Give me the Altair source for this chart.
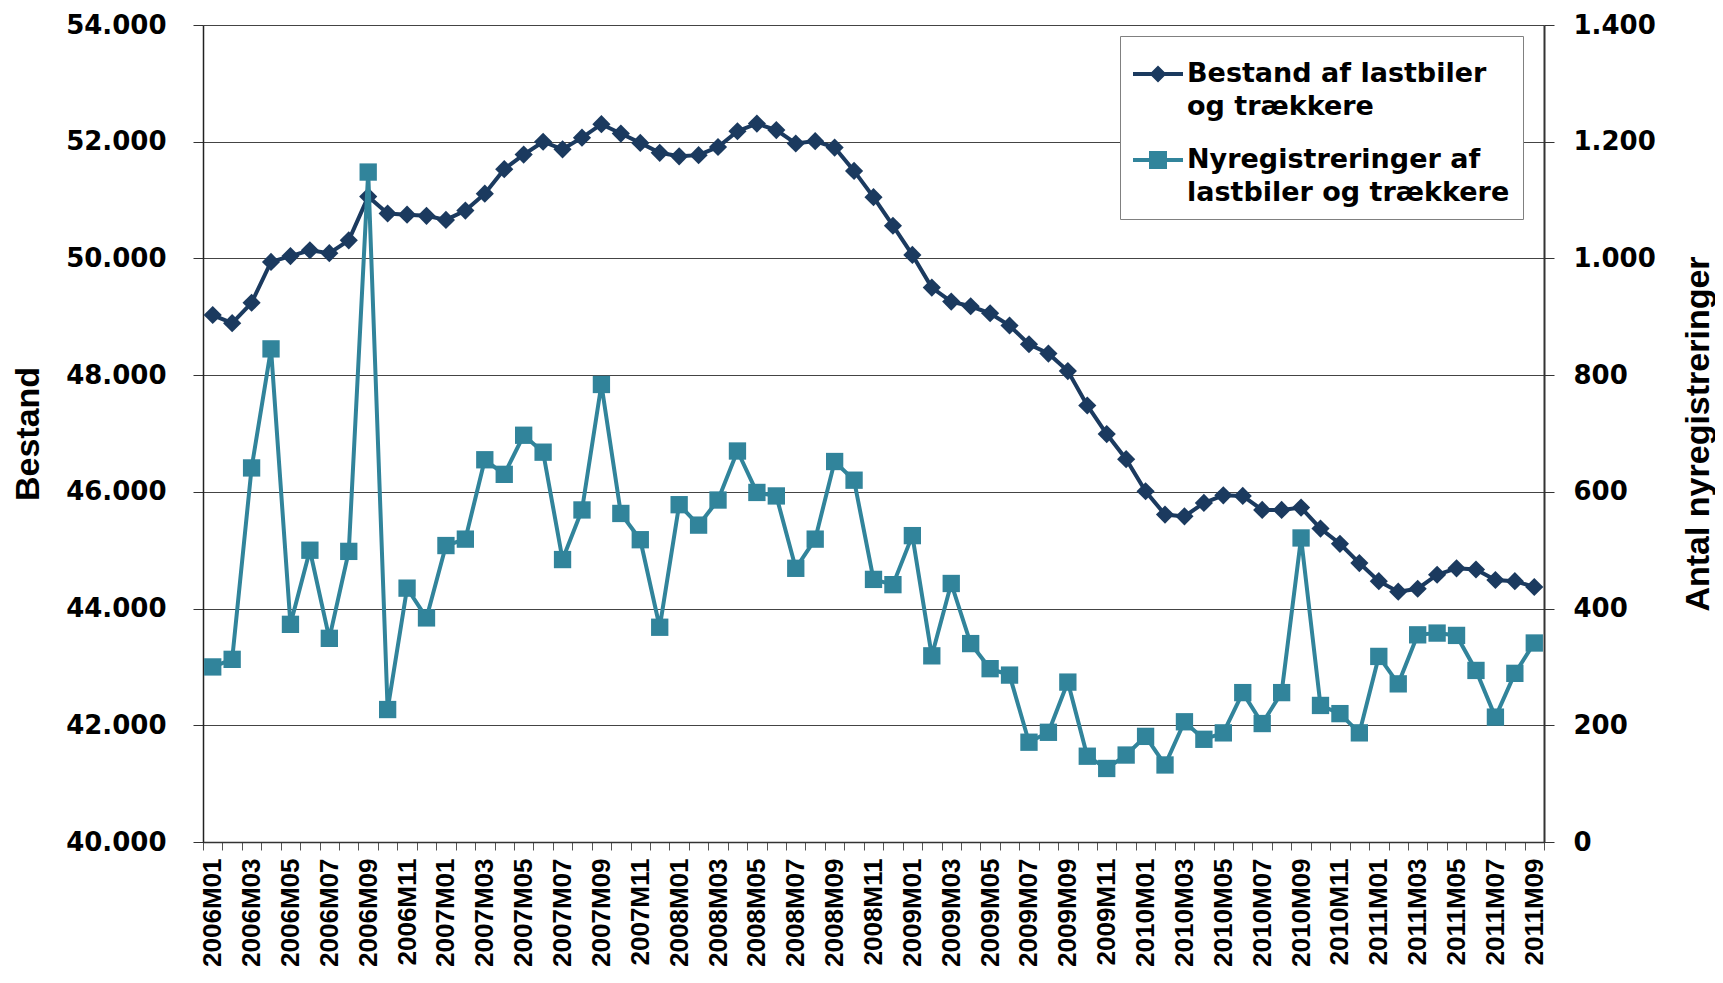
import altair as alt
import pandas as pd

months = [
    "2006M01", "2006M02", "2006M03", "2006M04", "2006M05", "2006M06",
    "2006M07", "2006M08", "2006M09", "2006M10", "2006M11", "2006M12",
    "2007M01", "2007M02", "2007M03", "2007M04", "2007M05", "2007M06",
    "2007M07", "2007M08", "2007M09", "2007M10", "2007M11", "2007M12",
    "2008M01", "2008M02", "2008M03", "2008M04", "2008M05", "2008M06",
    "2008M07", "2008M08", "2008M09", "2008M10", "2008M11", "2008M12",
    "2009M01", "2009M02", "2009M03", "2009M04", "2009M05", "2009M06",
    "2009M07", "2009M08", "2009M09", "2009M10", "2009M11", "2009M12",
    "2010M01", "2010M02", "2010M03", "2010M04", "2010M05", "2010M06",
    "2010M07", "2010M08", "2010M09", "2010M10", "2010M11", "2010M12",
    "2011M01", "2011M02", "2011M03", "2011M04", "2011M05", "2011M06",
    "2011M07", "2011M08", "2011M09",
]

bestand = [
    49030, 48890, 49240, 49940, 50040, 50140, 50090, 50310, 51060, 50770, 50750, 50730,
    50660, 50820, 51110, 51530, 51780, 52000, 51870, 52070, 52300, 52140, 51980, 51810,
    51750, 51770, 51910, 52180, 52310, 52200, 51970, 52010, 51900, 51500, 51050, 50560,
    50060, 49500, 49260, 49180, 49060, 48850, 48530, 48370, 48070, 47480, 46990, 46560,
    46010, 45610, 45580, 45810, 45940, 45930, 45690, 45690, 45730, 45370, 45110, 44780,
    44470, 44290, 44340, 44580, 44690, 44670, 44490, 44470, 44370,
]

nyreg = [
    300, 313, 641, 845, 373, 500, 349, 498, 1148, 227, 435, 384,
    508, 519, 655, 630, 697, 668, 484, 569, 784, 563, 518, 368,
    578, 543, 586, 670, 599, 593, 469, 519, 652, 620, 450, 441,
    525, 319, 443, 340, 297, 286, 171, 188, 274, 147, 126, 149,
    181, 132, 206, 176, 187, 256, 203, 256, 521, 234, 220, 187,
    318, 271, 355, 358, 354, 294, 214, 289, 341,
]

series_names = [
    "Bestand af lastbiler|og trækkere",
    "Nyregistreringer af|lastbiler og trækkere",
]
series_colors = ["#1B3A5F", "#31849B"]
legend_symbols = [
    "M-1,-0.08H1V0.08H-1Z M0,-0.34L0.34,0L0,0.34L-0.34,0Z",
    "M-1,-0.08H1V0.08H-1Z M-0.36,-0.36H0.36V0.36H-0.36Z",
]
left_ticks = [40000, 42000, 44000, 46000, 48000, 50000, 52000, 54000]
right_ticks = [0, 200, 400, 600, 800, 1000, 1200, 1400]

df = pd.DataFrame({"month": months, "bestand": bestand, "nyreg": nyreg})
legend_df = pd.DataFrame({"serie": series_names})

W, H = 1341, 817
NAVY, TEAL = series_colors
LAB_FONT = "DejaVu Sans"
ROT_FONT = "Liberation Sans"
dot_fmt = "replace(format(datum.value, ','), ',', '.')"

x_enc = alt.X(
    "month:O",
    sort=months,
    scale=alt.Scale(type="band", domain=months, paddingInner=0, paddingOuter=0),
    axis=alt.Axis(
        title=None,
        labelAngle=270,
        labelAlign="right",
        labelBaseline="middle",
        labelFont=ROT_FONT,
        labelFontSize=26,
        labelFontWeight="bold",
        labelColor="black",
        labelPadding=8,
        labelOverlap=False,
        labelExpr="parseInt(slice(datum.label, 5)) % 2 == 1 ? datum.label : ''",
        tickBand="extent",
        tickSize=8,
        tickColor="#555",
        tickWidth=1,
        domainColor="#333",
        domainWidth=1.5,
        grid=False,
    ),
)

y_left = alt.Y(
    "bestand:Q",
    scale=alt.Scale(domain=[40000, 54000], nice=False, zero=False),
    axis=alt.Axis(
        orient="left",
        values=left_ticks,
        labelExpr=dot_fmt,
        title="Bestand",
        titleFont=ROT_FONT,
        titleFontSize=34,
        titleFontWeight="bold",
        titleColor="black",
        titlePadding=20,
        labelFont=LAB_FONT,
        labelFontSize=26,
        labelFontWeight="bold",
        labelColor="black",
        labelPadding=27,
        tickSize=10,
        tickColor="#333",
        domainColor="#222",
        domainWidth=1.5,
        grid=True,
        gridColor="#444",
        gridWidth=1,
    ),
)

y_right = alt.Y(
    "nyreg:Q",
    scale=alt.Scale(domain=[0, 1400], nice=False),
    axis=alt.Axis(
        orient="right",
        values=right_ticks,
        labelExpr=dot_fmt,
        title="Antal nyregistreringer",
        titleFont=ROT_FONT,
        titleFontSize=34,
        titleFontWeight="bold",
        titleColor="black",
        titleAngle=270,
        titleBaseline="top",
        titlePadding=26,
        labelFont=LAB_FONT,
        labelFontSize=26,
        labelFontWeight="bold",
        labelColor="black",
        labelPadding=19,
        tickSize=10,
        tickColor="#333",
        domainColor="#333",
        domainWidth=2,
        grid=False,
    ),
)

base = alt.Chart(df)

line_b = base.mark_line(color=NAVY, strokeWidth=4).encode(x=x_enc, y=y_left)
pts_b = base.mark_point(shape="diamond", filled=True, size=330, color=NAVY, opacity=1).encode(
    x=x_enc, y=y_left
)

legend_def = alt.Legend(
    title=None,
    orient="none",
    legendX=917,
    legendY=11,
    labelExpr="split(datum.label, '|')",
    labelFont=LAB_FONT,
    labelFontSize=27,
    labelFontWeight="bold",
    labelColor="black",
    labelLimit=600,
    labelOffset=4,
    symbolSize=2500,
    symbolStrokeWidth=0,
    symbolOpacity=1,
    padding=13,
    rowPadding=15,
    strokeColor="#808080",
    fillColor="white",
)

legend_layer = alt.Chart(legend_df).mark_point(filled=True, opacity=0).encode(
    x=alt.value(0),
    y=alt.value(0),
    color=alt.Color(
        "serie:N",
        sort=series_names,
        scale=alt.Scale(domain=series_names, range=series_colors),
        legend=legend_def,
    ),
    shape=alt.Shape(
        "serie:N",
        sort=series_names,
        scale=alt.Scale(domain=series_names, range=legend_symbols),
        legend=legend_def,
    ),
)

line_n = base.mark_line(color=TEAL, strokeWidth=4).encode(x=x_enc, y=y_right)
pts_n = base.mark_point(shape="square", filled=True, size=300, color=TEAL, opacity=1).encode(
    x=x_enc, y=y_right
)

left = alt.layer(line_b, pts_b, legend_layer)
right = alt.layer(line_n, pts_n)

chart = (
    alt.layer(left, right)
    .resolve_scale(y="independent")
    .properties(
        width=W,
        height=H,
        padding={"left": 195, "top": 17, "right": 171, "bottom": 127},
        autosize=alt.AutoSizeParams(type="none"),
    )
    .configure_view(stroke=None)
    .configure(style={"guide-label": {"lineHeight": 33}})
)

chart.save("out.html", embed_options={"renderer": "svg", "actions": False})
